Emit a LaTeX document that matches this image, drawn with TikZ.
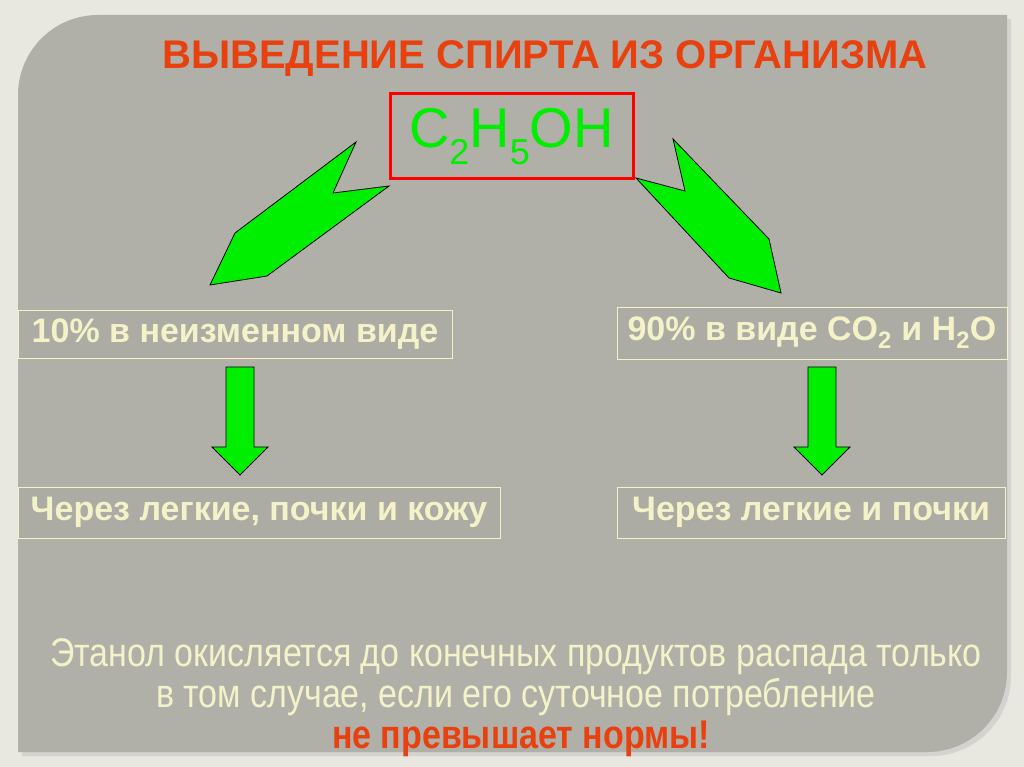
\documentclass[tikz,border=0pt]{standalone}
\usepackage{fontspec}
\setmainfont{Liberation Sans}
\begin{document}
\begin{tikzpicture}[x=1pt,y=-1pt,
  frame/.style={draw=textc,line width=0.8pt,fill=slide!92!black,fill opacity=0.25,text opacity=1,text=textc,font=\bfseries\fontsize{34}{38}\selectfont,inner sep=0pt},
  garrow/.style={fill=arrowg,draw=black,line width=0.8pt,line join=miter}]
\definecolor{bgc}{HTML}{E8E8E0}
\definecolor{slide}{HTML}{B0B0A8}
\definecolor{textc}{HTML}{F4F2C8}
\definecolor{redt}{HTML}{E8400E}
\definecolor{arrowg}{HTML}{00EE00}
\useasboundingbox (0,0) rectangle (1024,767);
\fill[bgc] (0,0) rectangle (1024,767);
\fill[black!25,opacity=0.5] (22,99) arc[start angle=180,end angle=270,radius=80] -- (1011,19) -- (1011,676) arc[start angle=0,end angle=90,radius=80] -- (22,756) -- cycle;
\fill[slide] (18,95) arc[start angle=180,end angle=270,radius=80] -- (1007,15) -- (1007,672) arc[start angle=0,end angle=90,radius=80] -- (18,752) -- cycle;
\node[text=redt,font=\bfseries\fontsize{40}{44}\selectfont] (title) at (545,59) {ВЫВЕДЕНИЕ СПИРТА ИЗ ОРГАНИЗМА};
\node[draw=red,line width=3pt,minimum width=243pt,minimum height=85pt,inner sep=0pt] (f) at (511.5,136.5) {};
\node[text=arrowg,font=\fontsize{56}{60}\selectfont] (ft) at (f.center) {C\raisebox{-0.3em}{\fontsize{36}{40}\selectfont 2}H\raisebox{-0.3em}{\fontsize{36}{40}\selectfont 5}OH};
\filldraw[garrow] (356,142) -- (333,193) -- (389,186) -- (267,276) -- (210,285) -- (235,233) -- cycle;
\filldraw[garrow] (673,139) -- (685,191) -- (636,178) -- (729,278) -- (781,293) -- (769,239) -- cycle;
\node[frame,minimum width=434pt,minimum height=48pt] (l1) at (235,334) {\raisebox{-3pt}{10\% в неизменном виде}};
\node[frame,minimum width=390pt,minimum height=52pt] (r1) at (812,333) {\raisebox{-3pt}{90\% в виде CO\textsubscript{2} и H\textsubscript{2}O}};
\node[frame,minimum width=482pt,minimum height=51pt] (l2) at (259,512.5) {\raisebox{-3pt}{Через легкие, почки и кожу}};
\node[frame,minimum width=388pt,minimum height=51pt] (r2) at (811,512.5) {\raisebox{-3pt}{Через легкие и почки}};
\filldraw[garrow] (226,367) -- (254,367) -- (254,447) -- (268,447) -- (240,475) -- (212,447) -- (226,447) -- cycle;
\filldraw[garrow] (808,367) -- (836,367) -- (836,447) -- (850,447) -- (822,475) -- (794,447) -- (808,447) -- cycle;
\node[text=textc,font=\fontsize{40}{44}\selectfont,xscale=0.85] (b1) at (516,657) {Этанол окисляется до конечных продуктов распада только};
\node[text=textc,font=\fontsize{40}{44}\selectfont,xscale=0.85] (b2) at (516,697) {в том случае, если его суточное потребление};
\node[text=redt,font=\bfseries\fontsize{40}{44}\selectfont,xscale=0.85] (b3) at (521,739) {не превышает нормы!};
\end{tikzpicture}
\end{document}
